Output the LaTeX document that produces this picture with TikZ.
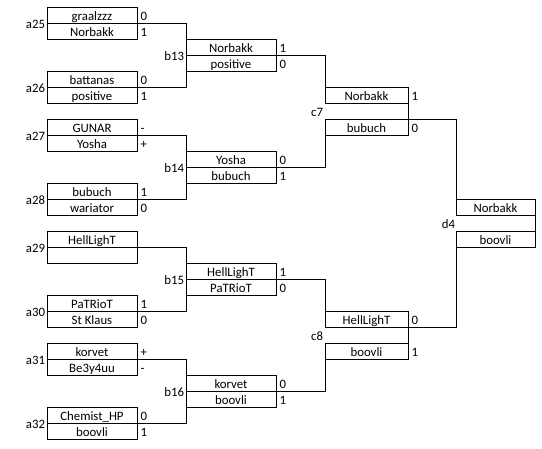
\documentclass[tikz,border=0pt]{standalone}
\usepackage{fontspec}
\setmainfont{Carlito}
\begin{document}
\begin{tikzpicture}[x=1pt,y=-1pt,line width=1pt,
  txt/.style={font=\fontsize{12.8}{15}\selectfont},
  cell/.style={txt, draw, anchor=north west, inner sep=0pt, outer sep=0pt, minimum height=16pt,
    text height=10.6pt, text depth=0.6pt},
  acell/.style={cell, minimum width=90pt},
  bcell/.style={cell, minimum width=90pt},
  ccell/.style={cell, minimum width=83pt},
  dcell/.style={cell, minimum width=79pt},
  lbl/.style={txt, inner sep=0pt, outer sep=0pt, anchor=base east},
  score/.style={txt, inner sep=0pt, outer sep=0pt, anchor=base west}]
\useasboundingbox (0,0) rectangle (542,449);
\fill[white] (0,0) rectangle (542,449);
% round a
\node[acell] (a25t) at (47,8) {graalzzz};
\node[acell] (a25b) at (a25t.south west) {Norbakk};
\node[acell] (a26t) at (47,72) {battanas};
\node[acell] (a26b) at (a26t.south west) {positive};
\node[acell] (a27t) at (47,120) {GUNAR};
\node[acell] (a27b) at (a27t.south west) {Yosha};
\node[acell] (a28t) at (47,184) {bubuch};
\node[acell] (a28b) at (a28t.south west) {wariator};
\node[acell] (a29t) at (47,232) {HellLighT};
\node[acell] (a29b) at (a29t.south west) {};
\node[acell] (a30t) at (47,296) {PaTRioT};
\node[acell] (a30b) at (a30t.south west) {St Klaus};
\node[acell] (a31t) at (47,344) {korvet};
\node[acell] (a31b) at (a31t.south west) {Be3y4uu};
\node[acell] (a32t) at (47,408) {Chemist\_HP};
\node[acell] (a32b) at (a32t.south west) {boovli};
% round b
\node[bcell] (b13t) at (186,40) {Norbakk};
\node[bcell] (b13b) at (b13t.south west) {positive};
\node[bcell] (b14t) at (186,152) {Yosha};
\node[bcell] (b14b) at (b14t.south west) {bubuch};
\node[bcell] (b15t) at (186,264) {HellLighT};
\node[bcell] (b15b) at (b15t.south west) {PaTRioT};
\node[bcell] (b16t) at (186,376) {korvet};
\node[bcell] (b16b) at (b16t.south west) {boovli};
% round c
\node[ccell] (c7t) at (325,88) {Norbakk};
\node[ccell] (c7b) at (325,120) {bubuch};
\node[ccell] (c8t) at (325,312) {HellLighT};
\node[ccell] (c8b) at (325,344) {boovli};
% round d
\node[dcell] (d4t) at (456,200) {Norbakk};
\node[dcell] (d4b) at (456,232) {boovli};
% labels
\node[lbl] (la25) at (45,28.5) {a25};
\node[lbl] (la26) at (45,92.5) {a26};
\node[lbl] (la27) at (45,140.5) {a27};
\node[lbl] (la28) at (45,204.5) {a28};
\node[lbl] (la29) at (45,252.5) {a29};
\node[lbl] (la30) at (45,316.5) {a30};
\node[lbl] (la31) at (45,364.5) {a31};
\node[lbl] (la32) at (45,428.5) {a32};
\node[lbl] (lb13) at (184,60.5) {b13};
\node[lbl] (lb14) at (184,172.5) {b14};
\node[lbl] (lb15) at (184,284.5) {b15};
\node[lbl] (lb16) at (184,396.5) {b16};
\node[lbl] (lc7) at (323,117) {c7};
\node[lbl] (lc8) at (323,341) {c8};
\node[lbl] (ld4) at (455,228.5) {d4};
% scores
\foreach \n/\s in {a25t/0,a25b/1,a26t/0,a26b/1,a27t/-,a27b/+,a28t/1,a28b/0,
  a30t/1,a30b/0,a31t/+,a31b/-,a32t/0,a32b/1,
  b13t/1,b13b/0,b14t/0,b14b/1,b15t/1,b15b/0,b16t/0,b16b/1,
  c7t/1,c7b/0,c8t/0,c8b/1}
  \node[score] (s\n) at ([xshift=3.5pt,yshift=-13pt]\n.north east) {\s};
% connectors a -> b
\draw (a25t.south east) -| (a26t.south east -| b13t.west) -- (a26t.south east);
\draw (a27t.south east) -| (a28t.south east -| b14t.west) -- (a28t.south east);
\draw (a29t.south east) -| (a30t.south east -| b15t.west) -- (a30t.south east);
\draw (a31t.south east) -| (a32t.south east -| b16t.west) -- (a32t.south east);
% b -> c
\draw (b13t.south east) -| (c7t.north west);
\draw (b14t.south east) -| (c7b.south west);
\draw (b15t.south east) -| (c8t.north west);
\draw (b16t.south east) -| (c8b.south west);
\draw (c7t.south east) -- (c7b.north east);
\draw (c8t.south east) -- (c8b.north east);
% c -> d
\draw (c7b.north east) -| (d4t.south west);
\draw (c8t.south east) -| (d4b.north west);
\draw (d4t.south east) -- (d4b.north east);
\end{tikzpicture}
\end{document}
